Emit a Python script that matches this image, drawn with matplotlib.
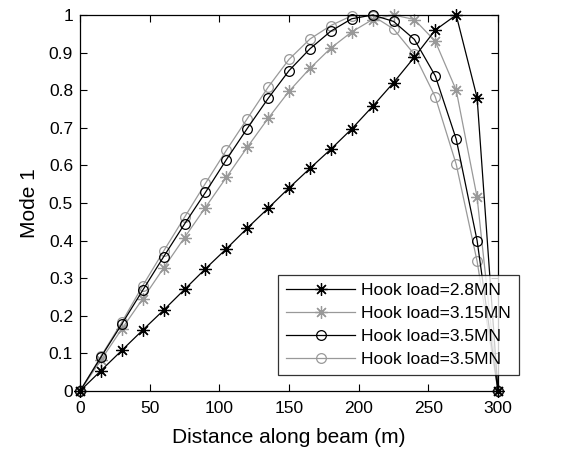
import matplotlib
matplotlib.use("Agg")
import matplotlib.pyplot as plt

plt.rcParams['font.family'] = ['Liberation Sans', 'DejaVu Sans']

x = [0, 15, 30, 45, 60, 75, 90, 105, 120, 135, 150, 165, 180, 195, 210, 225, 240, 255, 270, 285, 300]
s_28 = [0, 0.054, 0.108, 0.162, 0.215, 0.27, 0.325, 0.378, 0.433, 0.486, 0.54, 0.592, 0.643, 0.697,
        0.757, 0.82, 0.888, 0.96, 1.0, 0.78, 0]
s_315 = [0, 0.082, 0.165, 0.245, 0.327, 0.408, 0.488, 0.568, 0.648, 0.725, 0.797, 0.858, 0.912, 0.955,
         0.988, 1.0, 0.988, 0.93, 0.80, 0.515, 0]
s_35a = [0, 0.09, 0.178, 0.268, 0.357, 0.444, 0.528, 0.615, 0.698, 0.778, 0.852, 0.91, 0.957, 0.99,
         1.0, 0.983, 0.935, 0.838, 0.67, 0.40, 0]
s_35b = [0, 0.092, 0.183, 0.28, 0.372, 0.462, 0.552, 0.64, 0.724, 0.808, 0.882, 0.936, 0.972, 0.998,
         0.998, 0.963, 0.895, 0.782, 0.603, 0.345, 0]
labels = ['Hook load=2.8MN', 'Hook load=3.15MN', 'Hook load=3.5MN', 'Hook load=3.5MN']
xticks = [0, 50, 100, 150, 200, 250, 300]
yticks = [0, 0.1, 0.2, 0.3, 0.4, 0.5, 0.6, 0.7, 0.8, 0.9, 1]
ytick_labels = ['0', '0.1', '0.2', '0.3', '0.4', '0.5', '0.6', '0.7', '0.8', '0.9', '1']

fig = plt.figure(figsize=(5.82, 4.51), dpi=100)
ax = fig.add_axes([80/582, 1-391/451, (498-80)/582, (391-15)/451])

black = '#000000'
grey = '#999999'
star = (8, 2, 0)
kw = dict(lw=0.9, mew=0.9, clip_on=False)
ax.plot(x, s_28, color=black, marker=star, ms=9, label=labels[0], zorder=3, **kw)
ax.plot(x, s_315, color=grey, marker=star, ms=9, label=labels[1], zorder=2, **kw)
ax.plot(x, s_35a, color=black, marker='o', ms=7, mfc='none', label=labels[2], zorder=3, **kw)
ax.plot(x, s_35b, color=grey, marker='o', ms=7, mfc='none', label=labels[3], zorder=2, **kw)

ax.set_xlim(0, 300)
ax.set_ylim(0, 1)
ax.set_xticks(xticks)
ax.set_yticks(yticks)
ax.set_yticklabels(ytick_labels)
ax.tick_params(direction='in', top=True, right=True, labelsize=12.5, length=5, width=0.8)
ax.tick_params(axis='x', pad=7)
ax.tick_params(axis='y', pad=5)
for s in ax.spines.values():
    s.set_linewidth(0.9)
ax.set_xlabel('Distance along beam (m)', fontsize=15, labelpad=9)
ax.set_ylabel('Mode 1', fontsize=15, labelpad=7)

leg = ax.legend(loc='lower right', bbox_to_anchor=(519/582, 1-375/451), bbox_transform=fig.transFigure,
                fontsize=12.5, frameon=True, fancybox=False, edgecolor='black', handlelength=4.0,
                labelspacing=0.45, borderpad=0.45, handletextpad=0.35, borderaxespad=0)
leg.get_frame().set_linewidth(0.9)

fig.savefig('out.png', dpi=100)
